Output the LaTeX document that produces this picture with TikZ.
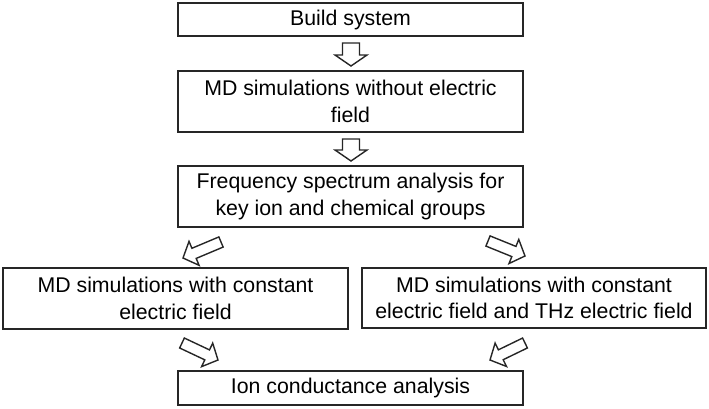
\documentclass[tikz,border=0pt]{standalone}
\usepackage{fontspec}
\setmainfont{Liberation Sans}
\usetikzlibrary{calc}

\tikzset{
  stepbox/.style={draw=black!85, line width=1.5pt, minimum width=345pt,
    align=center, inner sep=0pt, font=\fontsize{21.3}{26.5}\selectfont},
  hollow/.style={draw=black!85, fill=white, line width=1.4pt, line join=miter},
}
% hollow block arrow: tail, tip, shaft half width, head half width, head length
\newcommand{\blockarrow}[5]{%
  \coordinate (hb) at ($(#2)!#5!(#1)$);
  \draw[hollow] ($(#1)!#3!90:(#2)$) -- ($(hb)!#3!90:(#2)$)
    -- ($(hb)!#4!90:(#2)$) -- (#2) -- ($(hb)!#4!-90:(#2)$)
    -- ($(hb)!#3!-90:(#2)$) -- ($(#1)!#3!-90:(#2)$) -- cycle;
}

\begin{document}
\begin{tikzpicture}[x=1pt,y=-1pt]
\useasboundingbox (0,0) rectangle (709,408);

\node[stepbox, minimum height=33pt] at (350.5,19.5) (build) {Build system};
\node[stepbox, minimum height=61pt] at (350.5,101.5) (nofield) {MD simulations without electric\\field};
\node[stepbox, minimum height=61pt] at (350.5,196.5) (spectrum) {Frequency spectrum analysis for\\key ion and chemical groups};
\node[stepbox, minimum height=61pt] at (175.5,298.5) (constant) {MD simulations with constant\\electric field};
\node[stepbox, minimum height=60pt, minimum width=344pt] at (534,298) (thz) {MD simulations with constant\\electric field and THz electric field};
\node[stepbox, minimum height=34pt] at (350.5,388) (conduct) {Ion conductance analysis};

% arrow ends
\coordinate (b1) at (351,43);  \coordinate (b2) at (351,66);
\coordinate (n1) at (351,139); \coordinate (n2) at (351,161);
\coordinate (sl1) at (221,242); \coordinate (sl2) at (183,258);
\coordinate (sr1) at (488,241); \coordinate (sr2) at (525,256);
\coordinate (cl1) at (182,343); \coordinate (cl2) at (218,360);
\coordinate (tr1) at (525,343); \coordinate (tr2) at (490,360);

\blockarrow{b1}{b2}{8.5pt}{16pt}{11pt}
\blockarrow{n1}{n2}{8.5pt}{16pt}{11pt}
\blockarrow{sl1}{sl2}{5.5pt}{13pt}{12pt}
\blockarrow{sr1}{sr2}{5.5pt}{13pt}{12pt}
\blockarrow{cl1}{cl2}{5.5pt}{13pt}{12pt}
\blockarrow{tr1}{tr2}{5.5pt}{13pt}{12pt}
\end{tikzpicture}
\end{document}
